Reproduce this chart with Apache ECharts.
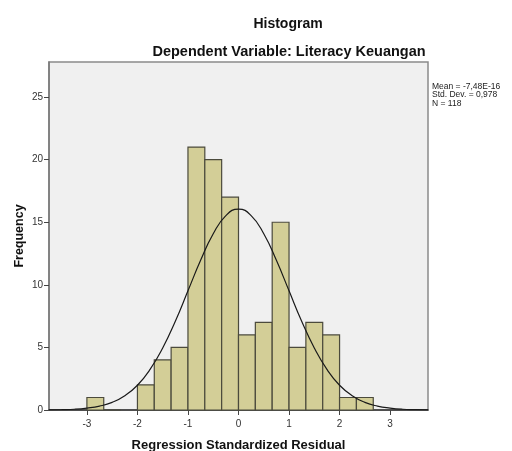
<!DOCTYPE html>
<html><head><meta charset="utf-8">
<script src="https://cdn.jsdelivr.net/npm/echarts@6/dist/echarts.min.js"></script>
<style>html,body{margin:0;padding:0;background:#fff}#c{width:512px;height:451px}</style>
</head><body><div id="c"></div>
<script>
// Histogram bins (start, end) and frequencies
var binStarts = [-3, -2.6667, -2, -1.6667, -1.3333, -1, -0.6667, -0.3333, 0, 0.3333, 0.6667, 1, 1.3333, 1.6667, 2, 2.3333];
var binWidth = 1/3;
var counts = [1, 0, 2, 4, 5, 21, 20, 17, 6, 7, 15, 5, 7, 6, 1, 1];
// Normal curve
var curveX = [-3.75,-3.5,-3.25,-3,-2.75,-2.5,-2.25,-2,-1.75,-1.5,-1.25,-1,-0.75,-0.5,-0.25,0,0.25,0.5,0.75,1,1.25,1.5,1.75,2,2.25,2.5,2.75,3,3.25,3.5,3.75];
var curveY = [0.01,0.03,0.06,0.15,0.31,0.61,1.14,1.98,3.24,4.95,7.09,9.52,11.96,14.08,15.53,16.05,15.53,14.08,11.96,9.52,7.09,4.95,3.24,1.98,1.14,0.61,0.31,0.15,0.06,0.03,0.01];
var xTicks = [-3, -2, -1, 0, 1, 2, 3];
var yTicks = [0, 5, 10, 15, 20, 25];
var statLines = ['Mean = -7,48E-16', 'Std. Dev. = 0,978', 'N = 118'];

var barData = binStarts.map(function (s, i) { return [s, s + binWidth, counts[i]]; });
var lineData = curveX.map(function (x, i) { return [x, curveY[i]]; });

var chart = echarts.init(document.getElementById('c'), null, {renderer: 'canvas'});
var font = 'Arial, "Liberation Sans", sans-serif';
chart.setOption({
  animation: false,
  backgroundColor: '#ffffff',
  textStyle: {fontFamily: font},
  title: [
    {text: 'Histogram', left: 283, top: 12, textAlign: 'center',
     textStyle: {fontSize: 14, fontWeight: 'bold', color: '#111', fontFamily: font}},
    {text: 'Dependent Variable: Literacy Keuangan', left: 284, top: 39, textAlign: 'center',
     textStyle: {fontSize: 14.5, fontWeight: 'bold', color: '#111', fontFamily: font}}
  ],
  graphic: [{
    type: 'text', left: 432, top: 82,
    style: {text: statLines.join('\n'), fontSize: 8.5, lineHeight: 8.5, fill: '#222', fontFamily: font}
  }],
  grid: {left: 49, top: 62, right: 84, bottom: 41, show: true, backgroundColor: '#f0f0f0',
         borderColor: '#8a8a8a', borderWidth: 1.5, outerBoundsMode: 'none', containLabel: false},
  xAxis: {
    type: 'value', min: -3.75, max: 3.75,
    name: 'Regression Standardized Residual', nameLocation: 'middle', nameGap: 29,
    nameTextStyle: {fontSize: 13, fontWeight: 'bold', color: '#111'},
    axisLine: {show: true, onZero: false, lineStyle: {color: '#333', width: 1.5}},
    axisTick: {show: true, length: 5, customValues: xTicks, lineStyle: {color: '#444'}},
    axisLabel: {customValues: xTicks, fontSize: 10, color: '#333', margin: 9},
    splitLine: {show: false}
  },
  yAxis: {
    type: 'value', min: 0, max: 27.8,
    name: 'Frequency', nameLocation: 'middle', nameGap: 23, nameMoveOverlap: false,
    nameTextStyle: {fontSize: 12.5, fontWeight: 'bold', color: '#111'},
    axisLine: {show: true, onZero: false, lineStyle: {color: '#777', width: 1.5}},
    axisTick: {show: true, length: 5, customValues: yTicks, lineStyle: {color: '#444'}},
    axisLabel: {customValues: yTicks, fontSize: 10, color: '#333', margin: 6},
    splitLine: {show: false}
  },
  series: [
    {
      type: 'custom',
      data: barData,
      encode: {x: [0, 1], y: 2},
      renderItem: function (params, api) {
        var p0 = api.coord([api.value(0), api.value(2)]);
        var p1 = api.coord([api.value(1), 0]);
        return {
          type: 'rect',
          shape: {x: p0[0], y: p0[1], width: p1[0] - p0[0], height: p1[1] - p0[1]},
          style: {fill: '#d3ce97', stroke: '#4b4a3c', lineWidth: 1.2}
        };
      }
    },
    {
      type: 'line', data: lineData, smooth: true, showSymbol: false,
      lineStyle: {color: '#1a1a1a', width: 1.2}, z: 5
    }
  ]
});
</script></body></html>
